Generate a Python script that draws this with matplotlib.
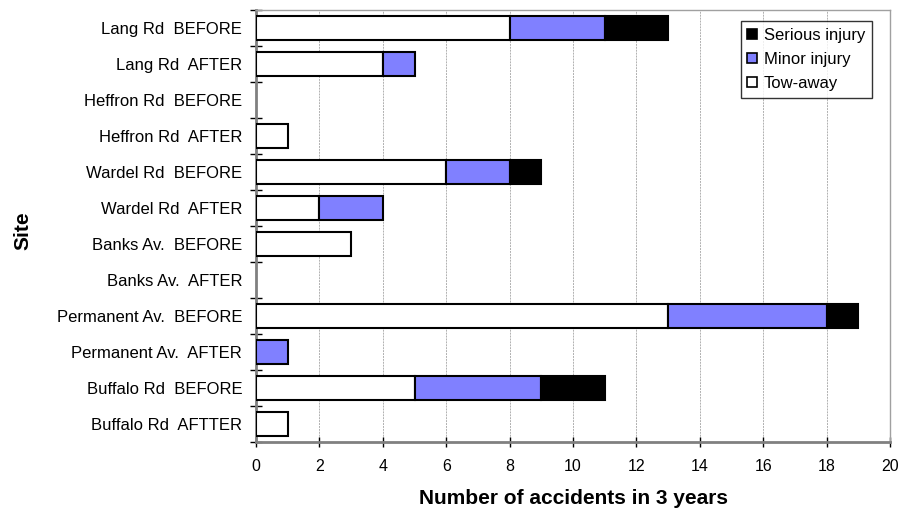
import matplotlib
matplotlib.use("Agg")
import matplotlib.pyplot as plt
import numpy as np

plt.rcParams["font.family"] = ["Liberation Sans", "DejaVu Sans"]

sites = ["Lang Rd  BEFORE", "Lang Rd  AFTER", "Heffron Rd  BEFORE", "Heffron Rd  AFTER",
         "Wardel Rd  BEFORE", "Wardel Rd  AFTER", "Banks Av.  BEFORE", "Banks Av.  AFTER",
         "Permanent Av.  BEFORE", "Permanent Av.  AFTER", "Buffalo Rd  BEFORE", "Buffalo Rd  AFTTER"]
tow_away = [8, 4, 0, 1, 6, 2, 3, 0, 13, 0, 5, 1]
minor_injury = [3, 1, 0, 0, 2, 2, 0, 0, 5, 1, 4, 0]
serious_injury = [2, 0, 0, 0, 1, 0, 0, 0, 1, 0, 2, 0]

fig = plt.figure(figsize=(9.05, 5.15), dpi=100)
ax = fig.add_axes([0.2829, 0.1417, 0.7005, 0.8389])

y = np.arange(len(sites))
left = np.zeros(len(sites))
series = [(tow_away, "white", "Tow-away"),
          (minor_injury, "#8080ff", "Minor injury"),
          (serious_injury, "black", "Serious injury")]
handles = []
for vals, col, lab in series:
    vals = np.array(vals, dtype=float)
    lw = [1.5 if v > 0 else 0 for v in vals]
    b = ax.barh(y, vals, left=left, height=0.67, color=col, edgecolor="black",
                linewidth=lw, label=lab, zorder=3)
    handles.append(b)
    left += vals

ax.set_xlim(0, 20)
ax.set_ylim(len(sites) - 0.5, -0.5)
ax.set_xticks(np.arange(0, 21, 2))
ax.tick_params(axis="x", direction="inout", length=7, width=1, labelsize=11.5, pad=9)

# category boundaries get the tick marks, centers get the labels
ax.set_yticks(np.arange(-0.5, len(sites), 1.0))
ax.set_yticklabels([])
ax.set_yticks(y, minor=True)
ax.set_yticklabels(sites, minor=True, fontsize=12)
ax.tick_params(axis="y", which="major", direction="inout", length=8, width=1)
ax.tick_params(axis="y", which="minor", length=0, pad=10)

ax.grid(axis="x", color="#b0b0b0", lw=0.7, ls=(0, (2, 1)), zorder=0)
for s in ["left", "bottom"]:
    ax.spines[s].set_color("#808080")
    ax.spines[s].set_linewidth(2)
for s in ["top", "right"]:
    ax.spines[s].set_color("#a0a0a0")
    ax.spines[s].set_linewidth(1)

ax.set_xlabel("Number of accidents in 3 years", fontsize=15, fontweight="bold")
ax.xaxis.set_label_coords(0.5, -0.108)
ax.set_ylabel("Site", fontsize=15, fontweight="bold")
ax.yaxis.set_label_coords(-0.353, 0.49)

leg = ax.legend(handles=handles[::-1], loc="upper right", bbox_to_anchor=(0.9716, 0.9745),
                fontsize=12, frameon=True, fancybox=False, edgecolor="black",
                handlelength=0.6, handleheight=0.6, handletextpad=0.4,
                borderpad=0.4, labelspacing=0.55, borderaxespad=0)
leg.get_frame().set_linewidth(1)
for h in leg.legend_handles:
    h.set_linewidth(1.2)

fig.savefig("out.png", dpi=100)
